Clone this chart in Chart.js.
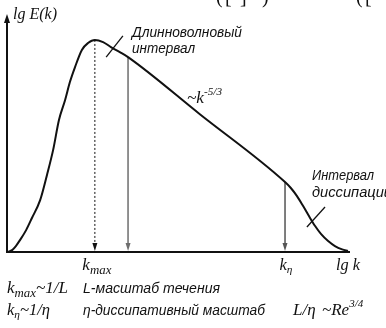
<!DOCTYPE html>
<html><head><meta charset="utf-8">
<script src="https://cdn.jsdelivr.net/npm/chart.js@4/dist/chart.umd.min.js"></script>
<style>html,body{margin:0;padding:0;background:#fff;overflow:hidden}canvas{display:block}</style>
</head><body>
<canvas id="c" width="386" height="328"></canvas>
<script>
// Turbulent energy spectrum E(k), log-log axes, arbitrary units
const lgK = [0, 0.12, 0.23, 0.35, 0.53, 0.70, 0.94, 1.14, 1.32, 1.49, 1.67, 1.81, 1.96, 2.16, 2.34, 2.54,
             2.78, 3.01, 3.27, 3.51, 5.61, 8.10, 8.27, 8.45, 8.63, 8.80, 8.98, 9.15, 9.36, 9.56, 9.77, 9.94];
const lgE = [0, 0.08, 0.25, 0.50, 0.92, 1.43, 2.18, 3.24, 4.29, 5.55, 6.39, 7.14, 7.77, 8.49, 8.78, 8.91,
             8.82, 8.61, 8.40, 8.19, 5.79, 2.94, 2.69, 2.35, 1.93, 1.51, 1.09, 0.76, 0.46, 0.25, 0.11, 0.04];

// Characteristic wavenumbers dropped onto the k axis: k_max, start of the -5/3 range, k_eta
const markerK = [2.54, 3.51, 8.10];
const markerColor = ['#111', '#6e6e6e', '#555'];
const markerDash = [[2, 2], [], []];

// Short pointer strokes from the range captions to the curve
const pointerK = [[3.36, 2.87], [9.27, 8.74]];
const pointerE = [[9.08, 8.19], [1.89, 1.05]];

const axisMaxK = 10, axisMaxE = 10;

function curveAt(k) {
  return lgE[lgK.indexOf(k)];
}

const datasets = [{
  data: lgK.map((k, i) => ({x: k, y: lgE[i]})),
  borderColor: '#111', borderWidth: 2, pointRadius: 0,
  cubicInterpolationMode: 'monotone', clip: false
}];
markerK.forEach((k, i) => datasets.push({
  data: [{x: k, y: curveAt(k)}, {x: k, y: 0.25}],
  borderColor: markerColor[i], borderWidth: i === 0 ? 1 : 1.5,
  borderDash: markerDash[i], pointRadius: 0, clip: false
}));
pointerK.forEach((ks, i) => datasets.push({
  data: ks.map((k, j) => ({x: k, y: pointerE[i][j]})),
  borderColor: '#111', borderWidth: 1.3, pointRadius: 0, clip: false
}));

const SERIF = '"Liberation Serif", "Times New Roman", serif';
const SANS = '"Liberation Sans", Arial, sans-serif';

// Draws a run of text pieces (with sub/superscripts), optionally stretched to a given width
function rich(ctx, parts, x, y, opts = {}) {
  let w = 0;
  parts.forEach(p => { ctx.font = p.f; w += ctx.measureText(p.t).width; });
  const sx = opts.width ? opts.width / w : 1;
  const left = opts.align === 'center' ? x - w * sx / 2 : x;
  ctx.save();
  ctx.translate(left, y);
  ctx.scale(sx, 1);
  let cx = 0;
  parts.forEach(p => {
    ctx.font = p.f;
    ctx.fillText(p.t, cx, p.dy || 0);
    cx += ctx.measureText(p.t).width;
  });
  ctx.restore();
}

function arrowDown(ctx, x, y, w, h, color) {
  ctx.fillStyle = color;
  ctx.beginPath();
  ctx.moveTo(x, y);
  ctx.lineTo(x - w / 2, y - h);
  ctx.lineTo(x + w / 2, y - h);
  ctx.closePath();
  ctx.fill();
}

const diagram = {
  id: 'diagram',
  beforeDatasetsDraw(chart) {
    const {ctx, chartArea: a} = chart;
    ctx.save();
    ctx.strokeStyle = '#111';
    ctx.lineWidth = 2;
    ctx.beginPath();
    ctx.moveTo(a.left - 1, a.bottom);
    ctx.lineTo(a.right, a.bottom);
    ctx.stroke();
    ctx.beginPath();
    ctx.moveTo(a.left - 1, a.bottom + 1);
    ctx.lineTo(a.left - 1, a.top + 8);
    ctx.stroke();
    ctx.fillStyle = '#111';
    ctx.beginPath();
    ctx.moveTo(a.left - 1, a.top);
    ctx.lineTo(a.left - 4, a.top + 9);
    ctx.lineTo(a.left + 2, a.top + 9);
    ctx.closePath();
    ctx.fill();
    ctx.restore();
  },
  afterDatasetsDraw(chart) {
    const {ctx, chartArea: a, scales: {x}} = chart;
    ctx.save();
    markerK.forEach((k, i) => arrowDown(ctx, x.getPixelForValue(k), a.bottom - 1, 5, 8, markerColor[i]));

    ctx.fillStyle = '#111';
    ctx.textBaseline = 'alphabetic';
    ctx.textAlign = 'left';
    const s16 = 'italic 16px ' + SERIF, s17 = 'italic 17px ' + SERIF;
    const s11 = 'italic 11px ' + SERIF, s12 = 'italic 12px ' + SERIF;
    const t14 = 'italic 14px ' + SANS;

    // fragments of the formula line above
    ctx.font = '20px ' + SERIF;
    ctx.fillText('(', 216, 3); ctx.fillText('[', 225, 3); ctx.fillText('·', 232, 1);
    ctx.fillText(']', 240, 3); ctx.fillText(')', 262, 3);
    ctx.fillText('(', 356, 3); ctx.fillText('[', 365, 3);

    rich(ctx, [{t: 'lg E(k)', f: s16}], 13, 19, {width: 44});

    rich(ctx, [{t: 'Длинноволновый', f: t14}], 132, 37, {width: 110});
    rich(ctx, [{t: 'интервал', f: t14}], 132, 53, {width: 63});
    rich(ctx, [{t: 'Интервал', f: t14}], 312, 180, {width: 62});
    rich(ctx, [{t: 'диссипации', f: t14}], 312, 197, {width: 80});

    rich(ctx, [{t: '~k', f: s17}, {t: '-5/3', f: s11, dy: -8}], 187, 103, {width: 35});

    rich(ctx, [{t: 'k', f: s16}, {t: 'max', f: s12, dy: 4}], x.getPixelForValue(markerK[0]) + 2, 270, {align: 'center', width: 29});
    rich(ctx, [{t: 'k', f: s16}, {t: 'η', f: s11, dy: 3}], x.getPixelForValue(markerK[2]) + 1, 270, {align: 'center', width: 13});
    rich(ctx, [{t: 'lg k', f: s17}], 336, 270, {width: 24});

    rich(ctx, [{t: 'k', f: s16}, {t: 'max', f: s12, dy: 4}, {t: '~1/L', f: s16}], 7, 293, {width: 61});
    rich(ctx, [{t: 'L-масштаб течения', f: t14}], 83, 293, {width: 137});

    rich(ctx, [{t: 'k', f: s16}, {t: 'η', f: s11, dy: 3}, {t: '~1/η', f: s16}], 7, 315, {width: 43});
    rich(ctx, [{t: 'η-диссипативный масштаб', f: t14}], 83, 315, {width: 182});
    rich(ctx, [{t: 'L/η', f: s17}], 293, 315);
    rich(ctx, [{t: '~Re', f: s17}, {t: '3/4', f: s11, dy: -8}], 322, 315);
    ctx.restore();
  }
};

new Chart(document.getElementById('c'), {
  type: 'line',
  data: {datasets},
  options: {
    responsive: false, animation: false, events: [],
    layout: {padding: {left: 8, right: 36, top: 14, bottom: 76}},
    plugins: {legend: {display: false}, tooltip: {enabled: false}},
    scales: {
      x: {type: 'linear', min: 0, max: axisMaxK, display: false},
      y: {type: 'linear', min: 0, max: axisMaxE, display: false}
    }
  },
  plugins: [diagram]
});
</script>
</body></html>
